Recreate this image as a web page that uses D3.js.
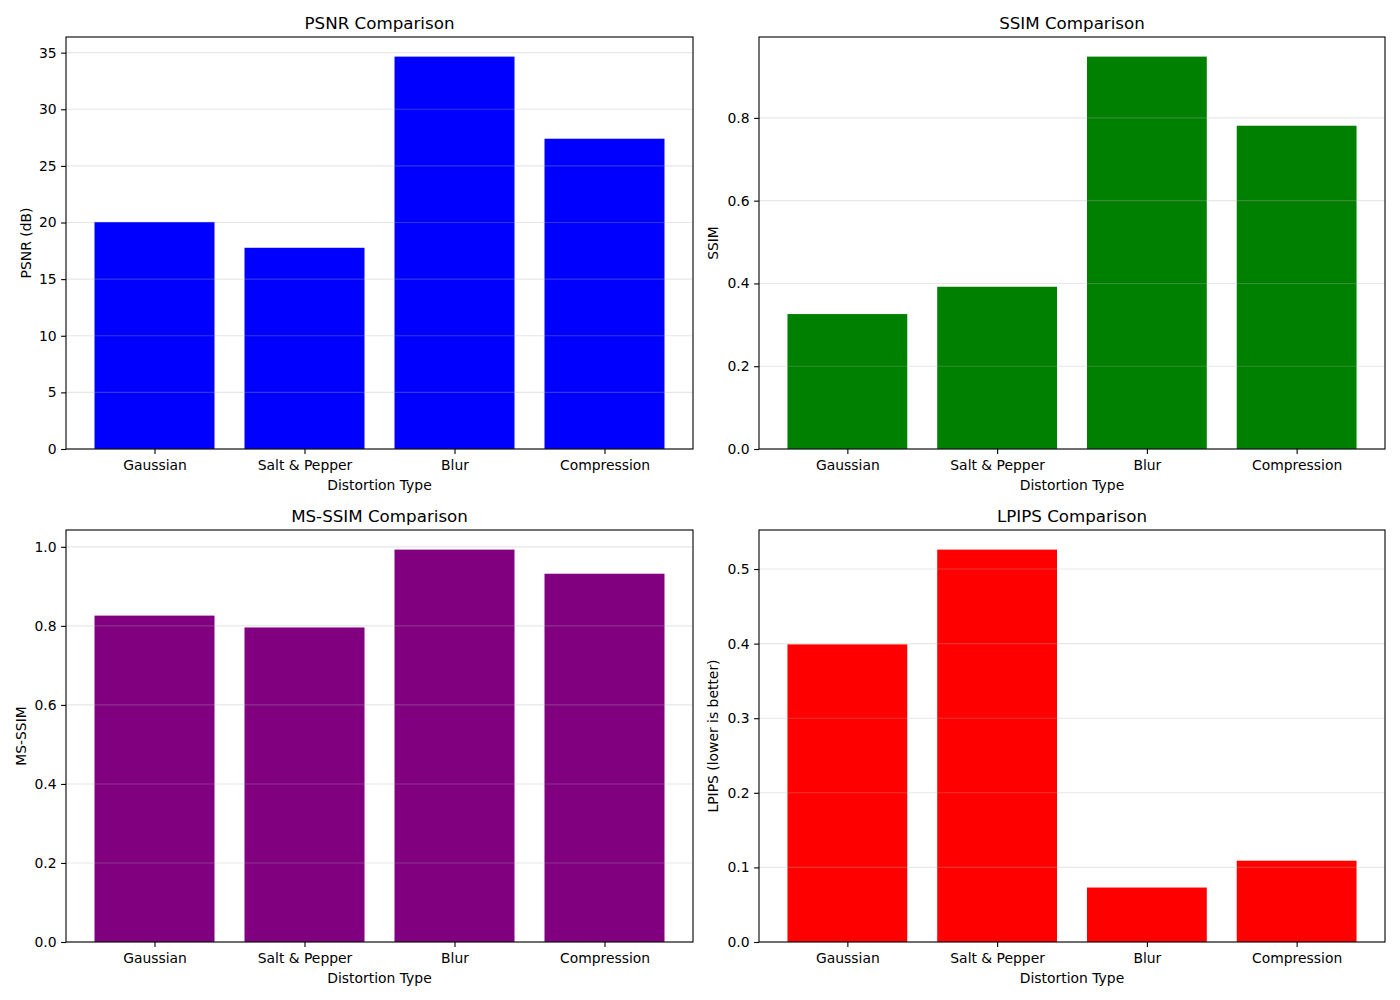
<!DOCTYPE html>
<html>
<head>
<meta charset="utf-8">
<script src="https://cdn.jsdelivr.net/npm/d3@7"></script>
<style>
  body { margin: 0; background: white; }
  svg text { font-family: "DejaVu Sans", sans-serif; fill: black; }
</style>
</head>
<body>
<div id="chart"></div>
<script>
// data
const categories = ["Gaussian", "Salt & Pepper", "Blur", "Compression"];
const psnrValues = [20.05, 17.77, 34.65, 27.4];
const ssimValues = [0.326, 0.392, 0.948, 0.781];
const msssimValues = [0.826, 0.796, 0.993, 0.932];
const lpipsValues = [0.399, 0.526, 0.073, 0.109];

const psnrTicks = [0, 5, 10, 15, 20, 25, 30, 35];
const ssimTicks = [0, 0.2, 0.4, 0.6, 0.8];
const msssimTicks = [0, 0.2, 0.4, 0.6, 0.8, 1.0];
const lpipsTicks = [0, 0.1, 0.2, 0.3, 0.4, 0.5];

const width = 1400;
const height = 1000;

const panels = [
  {title: "PSNR Comparison", ylabel: "PSNR (dB)", values: psnrValues, ticks: psnrTicks, fmt: d3.format("d"),
   color: "#0000ff", left: 66, right: 693, top: 37, bottom: 449, ylabelX: 26},
  {title: "SSIM Comparison", ylabel: "SSIM", values: ssimValues, ticks: ssimTicks, fmt: d3.format(".1f"),
   color: "#008000", left: 759, right: 1385, top: 37, bottom: 449, ylabelX: 713},
  {title: "MS-SSIM Comparison", ylabel: "MS-SSIM", values: msssimValues, ticks: msssimTicks, fmt: d3.format(".1f"),
   color: "#800080", left: 66, right: 693, top: 530, bottom: 942, ylabelX: 21},
  {title: "LPIPS Comparison", ylabel: "LPIPS (lower is better)", values: lpipsValues, ticks: lpipsTicks, fmt: d3.format(".1f"),
   color: "#ff0000", left: 759, right: 1385, top: 530, bottom: 942, ylabelX: 713}
];

const svg = d3.select("#chart").append("svg")
  .attr("width", width)
  .attr("height", height)
  .style("background-color", "white");

panels.forEach(function(p) {
  const g = svg.append("g");

  // matplotlib style: bars of width 0.8, 5% margins
  const x = d3.scaleLinear()
    .domain([-0.59, 3.59])
    .range([p.left, p.right]);

  const ymax = d3.max(p.values) * 1.05;
  const y = d3.scaleLinear()
    .domain([0, ymax])
    .range([p.bottom, p.top]);

  // bars
  g.selectAll("rect.bar")
    .data(p.values)
    .enter()
    .append("rect")
    .attr("class", "bar")
    .attr("x", (d, i) => x(i - 0.4))
    .attr("width", (d, i) => x(i + 0.4) - x(i - 0.4))
    .attr("y", d => y(d))
    .attr("height", d => y(0) - y(d))
    .attr("fill", p.color);

  // y grid, drawn above the bars like matplotlib does
  g.selectAll("line.grid")
    .data(p.ticks)
    .enter()
    .append("line")
    .attr("class", "grid")
    .attr("x1", p.left)
    .attr("x2", p.right)
    .attr("y1", d => y(d))
    .attr("y2", d => y(d))
    .attr("stroke", "#b0b0b0")
    .attr("stroke-opacity", 0.3)
    .attr("stroke-width", 1.1);

  // axes
  const yAxis = d3.axisLeft(y)
    .tickValues(p.ticks)
    .tickFormat(p.fmt)
    .tickSize(4.9)
    .tickPadding(4.5);
  const ya = g.append("g")
    .attr("transform", `translate(${p.left},0)`)
    .call(yAxis);

  const xAxis = d3.axisBottom(x)
    .tickValues(d3.range(categories.length))
    .tickFormat(i => categories[i])
    .tickSize(4.9)
    .tickPadding(6.5);
  const xa = g.append("g")
    .attr("transform", `translate(0,${p.bottom})`)
    .call(xAxis);

  [ya, xa].forEach(function(a) {
    a.select(".domain").remove();
    a.selectAll("line").attr("stroke", "black").attr("stroke-width", 1.1);
    a.selectAll("text")
      .style("font-size", "13.9px")
      .style("font-family", "DejaVu Sans, sans-serif")
      .attr("fill", "black");
  });

  // frame
  g.append("rect")
    .attr("x", p.left)
    .attr("y", p.top)
    .attr("width", p.right - p.left)
    .attr("height", p.bottom - p.top)
    .attr("fill", "none")
    .attr("stroke", "black")
    .attr("stroke-width", 1.1);

  // title
  g.append("text")
    .attr("x", (p.left + p.right) / 2)
    .attr("y", p.top - 8.5)
    .attr("text-anchor", "middle")
    .style("font-size", "16.7px")
    .text(p.title);

  // x label
  g.append("text")
    .attr("x", (p.left + p.right) / 2)
    .attr("y", p.bottom + 41)
    .attr("text-anchor", "middle")
    .style("font-size", "13.9px")
    .text("Distortion Type");

  // y label
  g.append("text")
    .attr("transform", `translate(${p.ylabelX},${(p.top + p.bottom) / 2}) rotate(-90)`)
    .attr("text-anchor", "middle")
    .attr("dy", "0.35em")
    .style("font-size", "13.9px")
    .text(p.ylabel);
});
</script>
</body>
</html>
